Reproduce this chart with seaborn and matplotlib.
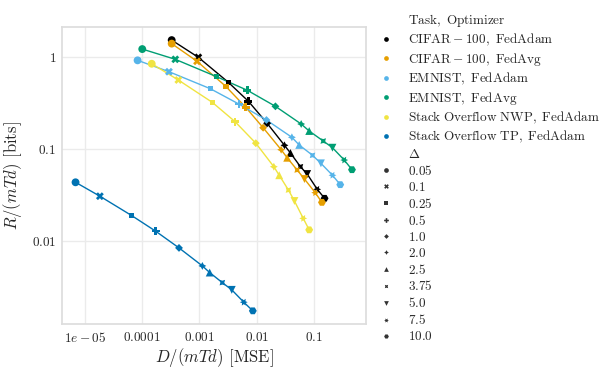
import numpy as np
import pandas as pd
import matplotlib.pyplot as plt
import matplotlib.ticker as mticker
import seaborn as sns

deltas = ["0.05", "0.1", "0.25", "0.5", "1.0", "2.0", "2.5", "3.75", "5.0", "7.5", "10.0"]

tasks = [
    r"$\mathrm{CIFAR}-100,\ \mathrm{FedAdam}$",
    r"$\mathrm{CIFAR}-100,\ \mathrm{FedAvg}$",
    "EMNIST, FedAdam",
    "EMNIST, FedAvg",
    "Stack Overflow NWP, FedAdam",
    "Stack Overflow TP, FedAdam",
]

# distortion D/(mTd) per task, one value per delta
D_cifar_adam = [3.28e-4, 9.57e-4, 3.2e-3, 7.16e-3, 0.0152, 0.0305, 0.0388, 0.058, 0.076, 0.1138, 0.153]
D_cifar_avg = [3.28e-4, 9.08e-4, 2.88e-3, 6.44e-3, 0.01294, 0.0267, 0.034, 0.0508, 0.0682, 0.105, 0.1375]
D_emnist_adam = [8.33e-5, 2.94e-4, 1.55e-3, 4.87e-3, 0.0148, 0.0411, 0.0551, 0.0942, 0.132, 0.210, 0.287]
D_emnist_avg = [1.005e-4, 3.79e-4, 2.0e-3, 6.87e-3, 0.0212, 0.0597, 0.0824, 0.145, 0.210, 0.337, 0.460]
D_so_nwp = [1.47e-4, 4.28e-4, 1.68e-3, 4.19e-3, 9.64e-3, 0.0199, 0.0247, 0.0358, 0.0456, 0.0648, 0.0824]
D_so_tp = [6.88e-6, 1.83e-5, 6.55e-5, 1.72e-4, 4.40e-4, 1.125e-3, 1.51e-3, 2.51e-3, 3.67e-3, 5.94e-3, 8.55e-3]

# rate R/(mTd) in bits
R_cifar_adam = [1.54, 1.0, 0.534, 0.332, 0.191, 0.110, 0.0907, 0.0643, 0.0535, 0.0365, 0.0291]
R_cifar_avg = [1.41, 0.905, 0.483, 0.285, 0.171, 0.0985, 0.0805, 0.0592, 0.0472, 0.0335, 0.0263]
R_emnist_adam = [0.927, 0.697, 0.455, 0.310, 0.2075, 0.1345, 0.111, 0.0856, 0.070, 0.0519, 0.0410]
R_emnist_avg = [1.23, 0.951, 0.615, 0.437, 0.2925, 0.1877, 0.1575, 0.1225, 0.1036, 0.076, 0.0597]
R_so_nwp = [0.851, 0.566, 0.323, 0.199, 0.116, 0.0643, 0.0519, 0.0358, 0.0272, 0.0176, 0.0132]
R_so_tp = [0.0435, 0.0307, 0.0189, 0.01277, 0.00839, 0.00534, 0.00452, 0.00351, 0.00293, 0.00215, 0.00173]

D_all = [D_cifar_adam, D_cifar_avg, D_emnist_adam, D_emnist_avg, D_so_nwp, D_so_tp]
R_all = [R_cifar_adam, R_cifar_avg, R_emnist_adam, R_emnist_avg, R_so_nwp, R_so_tp]

rows = []
for t, ds, rs in zip(tasks, D_all, R_all):
    for d, x, y in zip(deltas, ds, rs):
        rows.append({"Task, Optimizer": t, r"$\Delta$": d, "D": x, "R": y})
df = pd.DataFrame(rows)

palette = ["#000000", "#E69F00", "#56B4E9", "#009E73", "#F0E442", "#0072B2"]

sns.set_theme(style="whitegrid")
plt.rcParams["font.family"] = ["cmr10", "DejaVu Serif"]
plt.rcParams["mathtext.fontset"] = "cm"
plt.rcParams["axes.formatter.use_mathtext"] = True
plt.rcParams["axes.unicode_minus"] = False

fig = plt.figure(figsize=(6.12, 3.74), dpi=100)
ax = fig.add_axes([0.101, 0.134, 0.497, 0.793])

sns.lineplot(data=df, x="D", y="R", hue="Task, Optimizer", hue_order=tasks,
             palette=palette, estimator=None, legend=False, linewidth=1.0, ax=ax)
sns.scatterplot(data=df, x="D", y="R", hue="Task, Optimizer", hue_order=tasks,
                style=r"$\Delta$", style_order=deltas, palette=palette,
                s=32, linewidth=0, ax=ax, zorder=3)

ax.set_xscale("log")
ax.set_yscale("log")
ax.set_xlim(10 ** -5.402, 10 ** -0.093)
ax.set_ylim(10 ** -2.904, 10 ** 0.327)

xt = [1e-5, 1e-4, 1e-3, 1e-2, 1e-1]
xl = [r"$1e-05$", r"$0.0001$", r"$0.001$", r"$0.01$", r"$0.1$"]
yt = [1e-2, 1e-1, 1]
yl = [r"$0.01$", r"$0.1$", r"$1$"]
ax.xaxis.set_major_locator(mticker.FixedLocator(xt))
ax.xaxis.set_major_formatter(mticker.FixedFormatter(xl))
ax.yaxis.set_major_locator(mticker.FixedLocator(yt))
ax.yaxis.set_major_formatter(mticker.FixedFormatter(yl))
ax.xaxis.set_minor_locator(mticker.NullLocator())
ax.yaxis.set_minor_locator(mticker.NullLocator())
ax.tick_params(labelsize=9.5, length=0, pad=4)
ax.tick_params(axis="x", pad=5)
for sp in ax.spines.values():
    sp.set_color("#dddddd")
ax.grid(color="#ebebeb", linewidth=1.0)

ax.set_xlabel(r"$D/(mTd)$ [MSE]", fontsize=12, labelpad=1)
ax.set_ylabel(r"$R/(mTd)$ [bits]", fontsize=12, labelpad=6)

sns.move_legend(ax, "upper left", bbox_to_anchor=(0.594, 1.0),
                bbox_transform=fig.transFigure, frameon=False,
                fontsize=9.5, markerscale=0.6, labelspacing=0.22,
                handlelength=1.6, handletextpad=0.9, title=None)
leg = ax.get_legend()
for txt in leg.get_texts():
    s = txt.get_text()
    if not s.startswith("$"):
        txt.set_text(r"$\mathrm{" + s.replace(" ", r"\ ") + "}$")

fig.savefig("out.png", dpi=100)
